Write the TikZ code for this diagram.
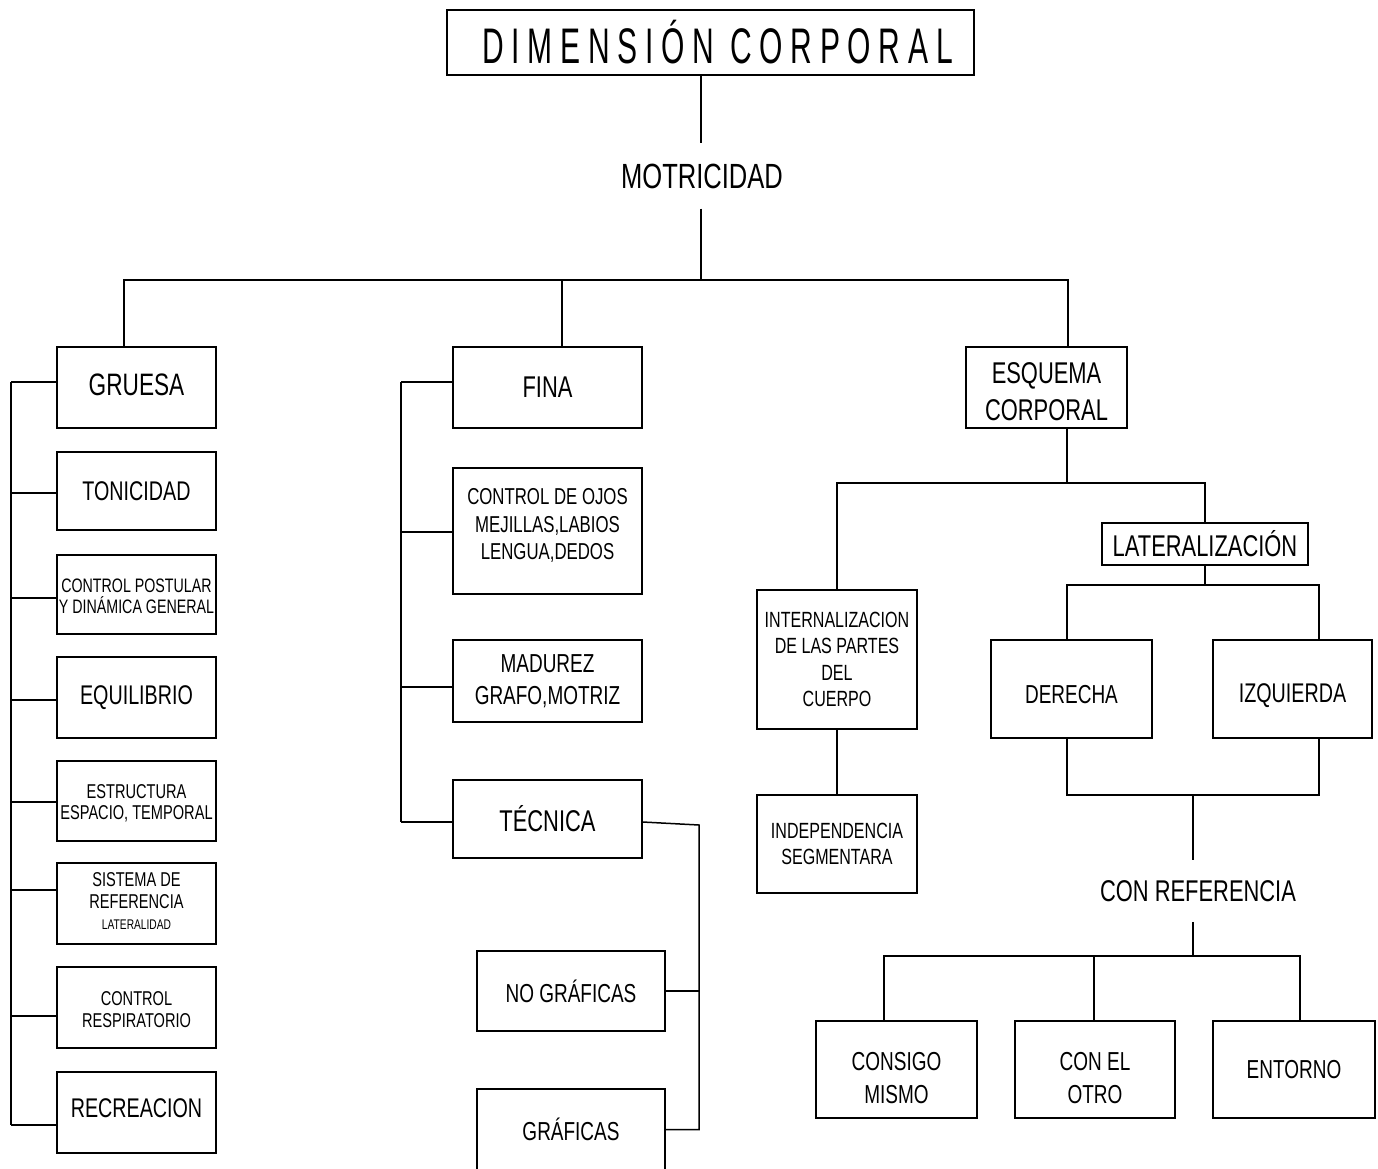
\documentclass[tikz,border=0pt]{standalone}
\usepackage{fontspec}
\setmainfont[FakeStretch=0.73]{Liberation Sans}
\newfontfamily\titlefont[FakeStretch=0.6,LetterSpace=15.5]{Liberation Sans}
\newcommand\fsz[2]{\fontsize{#1pt}{#2pt}\selectfont}
% strut helpers: \up adds depth (moves text up), \dn adds height (moves text down)
\newcommand\up[1]{\rule[-#1]{0pt}{0pt}}
\newcommand\dn[1]{\rule{0pt}{#1}}
\tikzset{
  box/.style n args={2}{draw, line width=1.5pt, inner sep=0pt, align=center,
    minimum width=#1, minimum height=#2},
  plain/.style={inner xsep=0pt, inner ysep=20pt, align=center},
  conn/.style={line width=1.5pt},
}
\begin{document}
\begin{tikzpicture}[x=1pt,y=-1pt]
\useasboundingbox[fill=white] (0,0) rectangle (1378,1168);
% top
\node[box={527pt}{65pt}, font=\titlefont\fsz{50}{55}] (title) at (710.5,42.5) {\hspace*{14pt}DIMENSIÓN CORPORAL};
\node[plain, font=\fsz{35}{40}] (motr) at (702,176) {MOTRICIDAD};
% left column
\node[box={159pt}{81pt}, font=\fsz{31}{36}] (gruesa) at (136.5,387.5) {GRUESA\up{6pt}};
\node[box={159pt}{78pt}, font=\fsz{27}{31}] (tonic) at (136.5,491) {TONICIDAD};
\node[box={159pt}{79pt}, font=\fsz{19.5}{20.5}] (cpost) at (136.5,594.5) {\dn{17pt}CONTROL POSTULAR\\Y DINÁMICA GENERAL};
\node[box={159pt}{81pt}, font=\fsz{27}{31}] (equil) at (136.5,697.5) {EQUILIBRIO};
\node[box={159pt}{80pt}, font=\fsz{20}{21}] (estruc) at (136.5,801) {\dn{18pt}ESTRUCTURA\\ESPACIO, TEMPORAL};
\node[box={159pt}{81pt}, font=\fsz{20}{21.5}] (sist) at (136.5,903.5) {SISTEMA DE\\REFERENCIA\\{\fsz{14}{20}LATERALIDAD}\up{4pt}};
\node[box={159pt}{81pt}, font=\fsz{20}{22}] (cresp) at (136.5,1007.5) {\dn{18pt}CONTROL\\RESPIRATORIO};
\node[box={159pt}{81pt}, font=\fsz{27}{31}] (recre) at (136.5,1112.5) {RECREACION\up{8pt}};
% middle column
\node[box={189pt}{81pt}, font=\fsz{30}{35}] (fina) at (547.5,387.5) {FINA};
\node[box={189pt}{126pt}, font=\fsz{23}{27.5}] (cojos) at (547.5,531) {CONTROL DE OJOS\\MEJILLAS,LABIOS\\LENGUA,DEDOS\up{14pt}};
\node[box={189pt}{82pt}, font=\fsz{26}{32}] (madur) at (547.5,681) {MADUREZ\\GRAFO,MOTRIZ};
\node[box={189pt}{78pt}, font=\fsz{30}{35}] (tecn) at (547.5,819) {TÉCNICA};
\node[box={188pt}{80pt}, font=\fsz{26}{30}] (nograf) at (571,991) {NO GRÁFICAS};
\node[box={188pt}{81pt}, font=\fsz{26}{30}] (graf) at (571,1129.5) {GRÁFICAS};
% right part
\node[box={161pt}{81pt}, font=\fsz{30}{37}] (esq) at (1046.5,387.5) {\dn{29.5pt}ESQUEMA\\CORPORAL};
\node[box={206pt}{42pt}, font=\fsz{30}{35}] (lat) at (1205,544) {LATERALIZACIÓN};
\node[box={160pt}{139pt}, font=\fsz{22}{26.5}] (intern) at (837,659.5) {INTERNALIZACION\\DE LAS PARTES\\DEL\\CUERPO};
\node[box={160pt}{98pt}, font=\fsz{22}{26}] (indep) at (837,844) {INDEPENDENCIA\\SEGMENTARA};
\node[box={161pt}{98pt}, font=\fsz{26}{30}] (der) at (1071.5,689) {\dn{28.5pt}DERECHA};
\node[box={159pt}{98pt}, font=\fsz{27}{30}] (izq) at (1292.5,689) {\dn{33pt}IZQUIERDA};
\node[plain, font=\fsz{30}{35}] (conref) at (1198,891) {CON REFERENCIA};
\node[box={161pt}{97pt}, font=\fsz{26}{33}] (consigo) at (896.5,1069.5) {\dn{35pt}CONSIGO\\MISMO};
\node[box={160pt}{97pt}, font=\fsz{26}{33}] (conel) at (1095,1069.5) {\dn{35pt}CON EL\\OTRO};
\node[box={162pt}{97pt}, font=\fsz{26}{30}] (entorno) at (1294,1069.5) {ENTORNO};
% connector coordinates
\coordinate (j0) at (701,280);
\coordinate (bL) at (124,280);
\coordinate (bM) at (562,280);
\coordinate (bR) at (1068,280);
\coordinate (g1) at (11,382);
\coordinate (g2) at (11,493);
\coordinate (g3) at (11,598);
\coordinate (g4) at (11,700);
\coordinate (g5) at (11,802);
\coordinate (g6) at (11,890);
\coordinate (g7) at (11,1016);
\coordinate (g8) at (11,1125);
\coordinate (f1) at (401,382);
\coordinate (f2) at (401,532);
\coordinate (f3) at (401,687);
\coordinate (f4) at (401,822);
\coordinate (t0) at (642,822);
\coordinate (tr) at (699,825);
\coordinate (e1) at (1067,483);
\coordinate (l1) at (1067,585);
\coordinate (l2) at (1319,585);
\coordinate (l3) at (1067,795);
\coordinate (l4) at (1319,795);
\coordinate (r1) at (1193,795);
\coordinate (r2) at (1193,956);
\coordinate (b1) at (884,956);
\coordinate (b2) at (1094,956);
\coordinate (b3) at (1300,956);
% connectors
\begin{scope}[conn]
\draw (j0 |- title.south) -- (j0 |- motr.north);
\draw (j0 |- motr.south) -- (j0);
\draw (bL |- gruesa.north) -- (bL) -- (bR) -- (bR |- esq.north);
\draw (bM) -- (bM |- fina.north);
% left spine
\draw (g1) -- (g8);
\draw (g1) -- (g1 -| gruesa.west);
\draw (g2) -- (g2 -| tonic.west);
\draw (g3) -- (g3 -| cpost.west);
\draw (g4) -- (g4 -| equil.west);
\draw (g5) -- (g5 -| estruc.west);
\draw (g6) -- (g6 -| sist.west);
\draw (g7) -- (g7 -| cresp.west);
\draw (g8) -- (g8 -| recre.west);
% middle spine
\draw (f1) -- (f4);
\draw (f1) -- (f1 -| fina.west);
\draw (f2) -- (f2 -| cojos.west);
\draw (f3) -- (f3 -| madur.west);
\draw (f4) -- (f4 -| tecn.west);
\draw (t0 -| tecn.east) -- (tr) -- (tr |- graf.east) -- (graf.east);
\draw (nograf.east) -- (nograf.east -| tr);
% right
\draw (e1 |- esq.south) -- (e1);
\draw (intern.north) |- (lat.north |- e1) -- (lat.north);
\draw (intern.south) -- (indep.north);
\draw (lat.south) -- (lat.south |- l1);
\draw (l1 |- der.north) -- (l1) -- (l2) -- (l2 |- izq.north);
\draw (l3 |- der.south) -- (l3) -- (l4) -- (l4 |- izq.south);
\draw (r1) -- (r1 |- conref.north);
\draw (r2 |- conref.south) -- (r2);
\draw (b1 |- consigo.north) -- (b1) -- (b3) -- (b3 |- entorno.north);
\draw (b2) -- (b2 |- conel.north);
\end{scope}
\end{tikzpicture}
\end{document}
